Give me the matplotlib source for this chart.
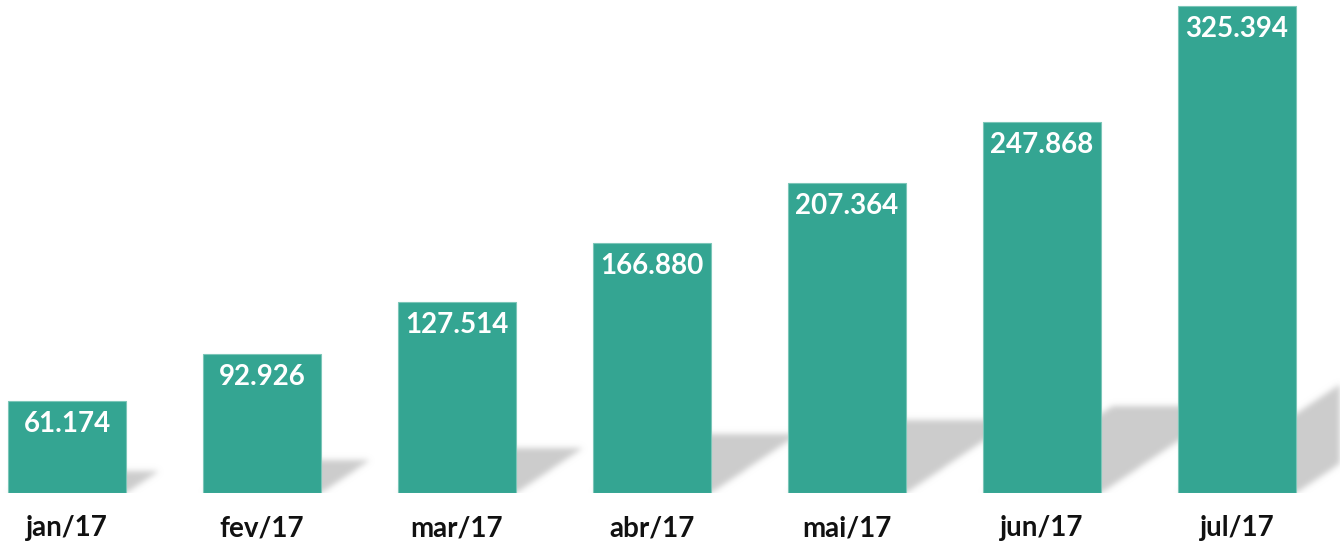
import numpy as np
import matplotlib
matplotlib.use('Agg')
import matplotlib.pyplot as plt
from matplotlib.path import Path

months = ['jan/17', 'fev/17', 'mar/17', 'abr/17', 'mai/17', 'jun/17', 'jul/17']
values = [61.174, 92.926, 127.514, 166.880, 207.364, 247.868, 325.394]
value_labels = ['61.174', '92.926', '127.514', '166.880', '207.364', '247.868', '325.394']

BAR = '#34a592'
EDGE = '#7cc6b8'
SHADOW = 0.80
W, H, DPI = 1340, 548, 100
FONT = ['Lato', 'DejaVu Sans']

fig = plt.figure(figsize=(W / DPI, H / DPI), dpi=DPI)
ax_bottom = 55 / H
ax = fig.add_axes([0, ax_bottom, 1, 1 - ax_bottom])
xs = np.arange(len(values))
ax.set_xlim(-0.3436, 6.528)
ax.set_ylim(0, 329.3)
ax.axis('off')

bars = ax.bar(xs, values, width=0.605, color=BAR, edgecolor=EDGE,
              linewidth=0.8, zorder=3)

# --- soft cast shadows (computed in display pixels, from the bars) ---
fig.canvas.draw()
bb = ax.get_window_extent()
nx, ny = int(round(bb.width)), int(round(bb.height))
gx = bb.x0 + np.arange(nx) + 0.5
gy = bb.y0 + np.arange(ny) + 0.5
GX, GY = np.meshgrid(gx, gy)
pts = np.column_stack([GX.ravel(), GY.ravel()])
mask = np.zeros(nx * ny)
for rect in bars:
    (x0, y0), (x1, y1) = ax.transData.transform(
        [(rect.get_x(), 0), (rect.get_x() + rect.get_width(), rect.get_height())])
    h = y1 - y0
    dx, dy = 0.35 * h, 0.235 * h
    poly = Path([(x0, y0), (x1, y0), (x1 + dx, y0 + dy), (x0 + dx, y0 + dy), (x0, y0)])
    mask = np.maximum(mask, poly.contains_points(pts).astype(float))
mask = mask.reshape(ny, nx)

sigma = 3.0
k = np.arange(-10, 11)
kern = np.exp(-k ** 2 / (2 * sigma ** 2))
kern /= kern.sum()
mask = np.apply_along_axis(lambda r: np.convolve(r, kern, mode='same'), 1, mask)
mask = np.apply_along_axis(lambda c: np.convolve(c, kern, mode='same'), 0, mask)

rgba = np.zeros((ny, nx, 4))
rgba[..., :3] = SHADOW
rgba[..., 3] = np.clip(mask, 0, 1)
ax.imshow(rgba, extent=(*ax.get_xlim(), *ax.get_ylim()), origin='lower',
          aspect='auto', zorder=1, interpolation='nearest')

for i, (v, lbl) in enumerate(zip(values, value_labels)):
    ax.annotate(lbl, xy=(xs[i], v), xytext=(0, -31 * 72 / DPI),
                textcoords='offset points', ha='center', va='baseline',
                color='white', fontsize=20, fontweight='bold', family=FONT,
                zorder=5)
    ax.annotate(months[i], xy=(xs[i], 0), xytext=(0, -43 * 72 / DPI),
                textcoords='offset points', ha='center', va='baseline',
                color='#111111', fontsize=20, fontweight='bold', family=FONT,
                annotation_clip=False, zorder=5)

fig.savefig('out.png', dpi=DPI, facecolor='white')
